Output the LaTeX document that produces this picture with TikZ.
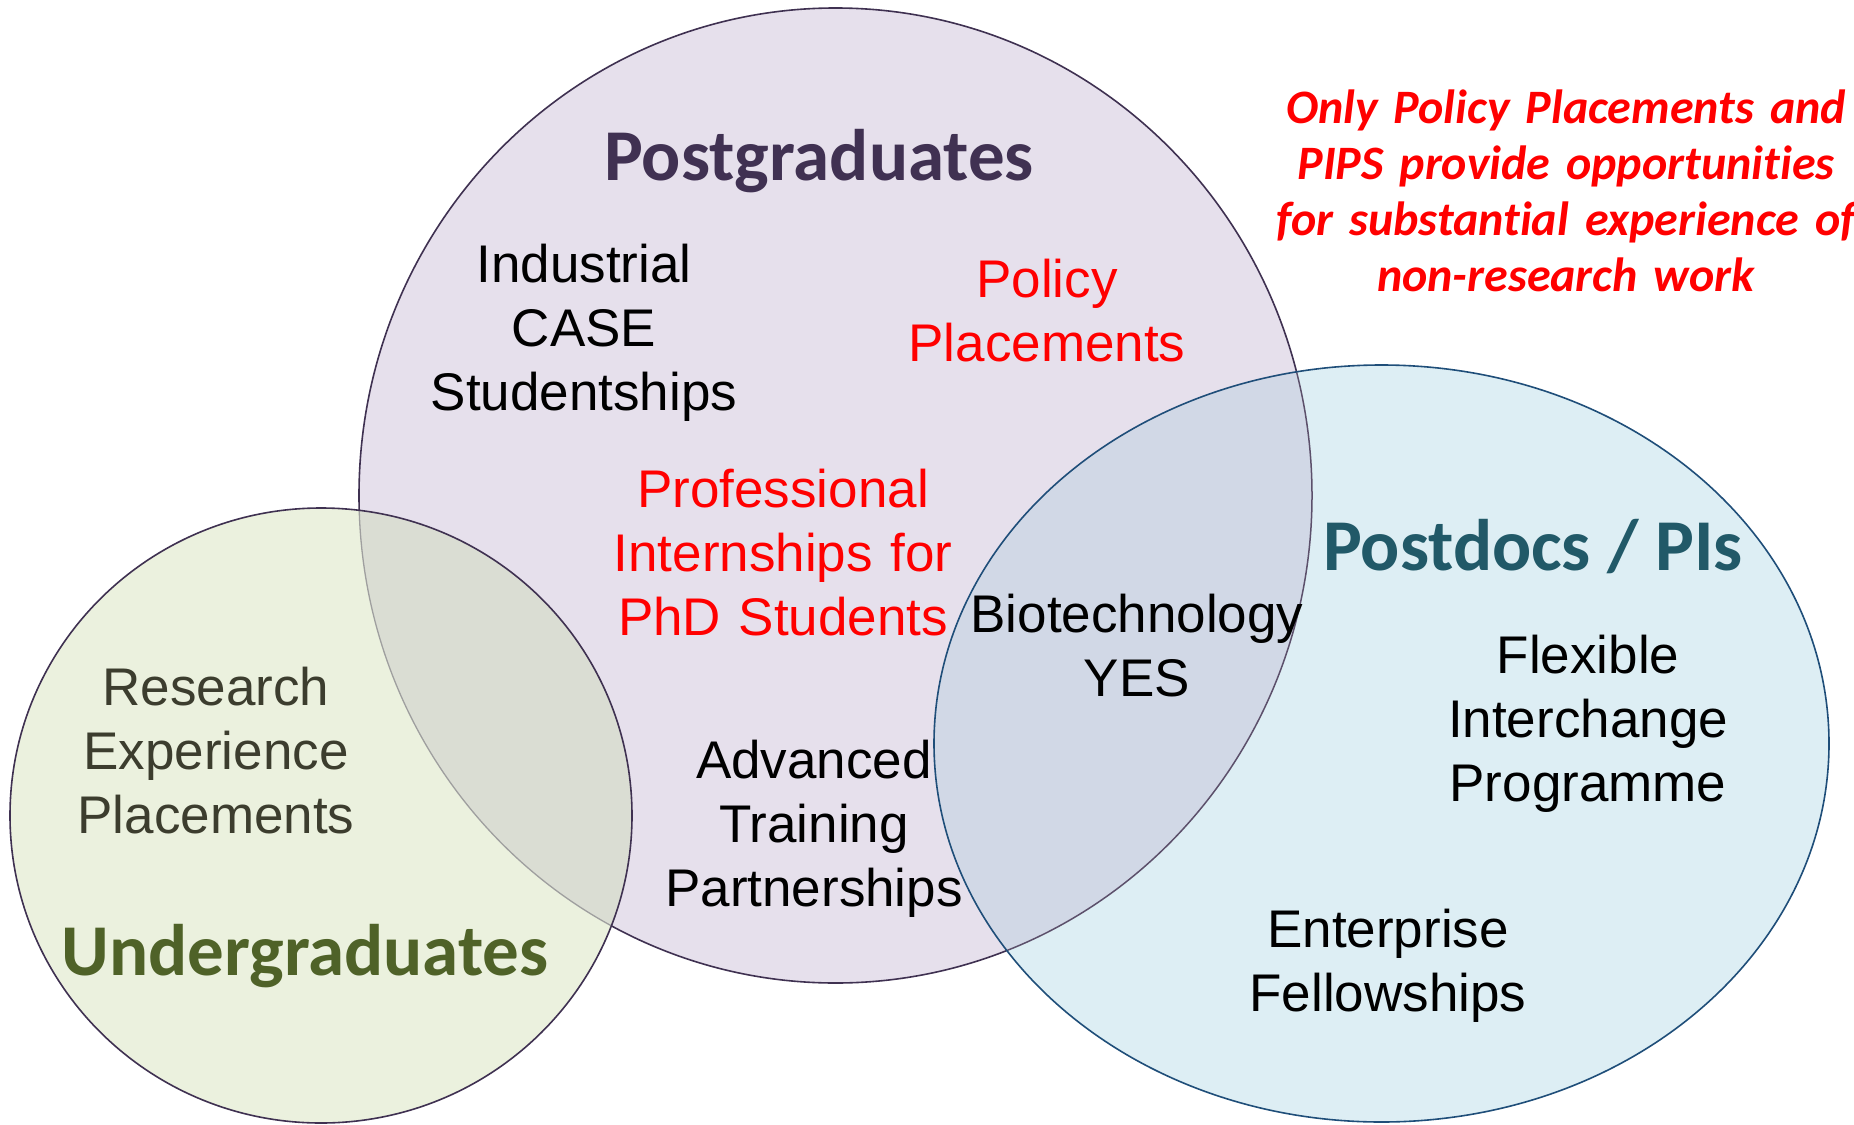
\documentclass[tikz,border=0pt]{standalone}
\usepackage{fontspec}
\setmainfont{Liberation Sans}
\newfontfamily\calibri[Ligatures={NoCommon,NoRare}]{Carlito}
\definecolor{pgfill}{HTML}{E6E0EC}
\definecolor{ugfill}{HTML}{EBF1DE}
\definecolor{pdfill}{HTML}{DDEEF4}
\definecolor{ugpg}{HTML}{DADDD3}
\definecolor{pgpd}{HTML}{D1D8E6}
\definecolor{pgline}{HTML}{3F3151}
\definecolor{pdline}{HTML}{1F4E79}
\definecolor{pgtitle}{HTML}{403152}
\definecolor{ugtitle}{HTML}{4F6228}
\definecolor{pdtitle}{HTML}{215968}
\definecolor{ugtext}{HTML}{3C3D2E}
\definecolor{note}{HTML}{FF0000}
\newcommand\arialbig{\fontsize{53}{64}\selectfont}
\newcommand\titlefont{\calibri\bfseries\fontsize{73}{88}\selectfont}
\newcommand\notefont{\calibri\bfseries\itshape\fontsize{48}{56}\selectfont}
\tikzset{
  lbl/.style={text width=800pt, align=center, anchor=base, inner sep=0pt, font=\arialbig},
  ttl/.style={anchor=base, inner sep=0pt, font=\titlefont},
  rim/.style={line width=1.6pt}
}
\begin{document}
\begin{tikzpicture}[x=1pt,y=-1pt]
\useasboundingbox (0,0) rectangle (1854,1124);
\def\PG{(835.5,495.5) ellipse [x radius=476.5pt, y radius=487.5pt]}
\def\UG{(321,815.5) ellipse [x radius=311pt, y radius=307.5pt]}
\def\PD{(1381.5,743.5) ellipse [x radius=447.5pt, y radius=378.5pt]}
% postgraduates
\fill[pgfill] \PG;
\draw[rim, pgline] \PG;
% undergraduates
\fill[ugfill] \UG;
\begin{scope}
  \clip \UG;
  \fill[ugpg] \PG;
  \draw[line width=1.3pt, gray!75] \PG;
\end{scope}
\draw[rim, pgline] \UG;
% postdocs
\fill[pdfill] \PD;
\begin{scope}
  \clip \PD;
  \fill[pgpd] \PG;
  \draw[line width=1.5pt, pgline!85!white] \PG;
\end{scope}
\draw[rim, pdline] \PD;
% titles
\node[ttl, text=pgtitle] (pgt) at (819,180) {Postgraduates};
\node[ttl, text=ugtitle] (ugt) at (305,975) {Undergraduates};
\node[ttl, text=pdtitle] (pdt) at (1533,570) {Postdocs / PIs};
% labels
\node[lbl] (ics) at (584,282) {Industrial\\CASE\\Studentships};
\node[lbl, text=note] (pol) at (1047,297) {Policy\\Placements};
\node[lbl, text=note] (pip) at (783,507) {Professional\\Internships for\\PhD Students};
\node[lbl] (bio) at (1137,632) {Biotechnology\\YES};
\node[lbl] (atp) at (814,778) {Advanced\\Training\\Partnerships};
\node[lbl, text=ugtext] (rep) at (216,705) {Research\\Experience\\Placements};
\node[lbl] (fip) at (1588,673) {Flexible\\Interchange\\Programme};
\node[lbl] (ent) at (1388,947) {Enterprise\\Fellowships};
\node[lbl, font=\notefont, text=note] (nte) at (1566,123) {Only Policy Placements and\\PIPS provide opportunities\\for substantial experience of\\non-research work};
\end{tikzpicture}
\end{document}
